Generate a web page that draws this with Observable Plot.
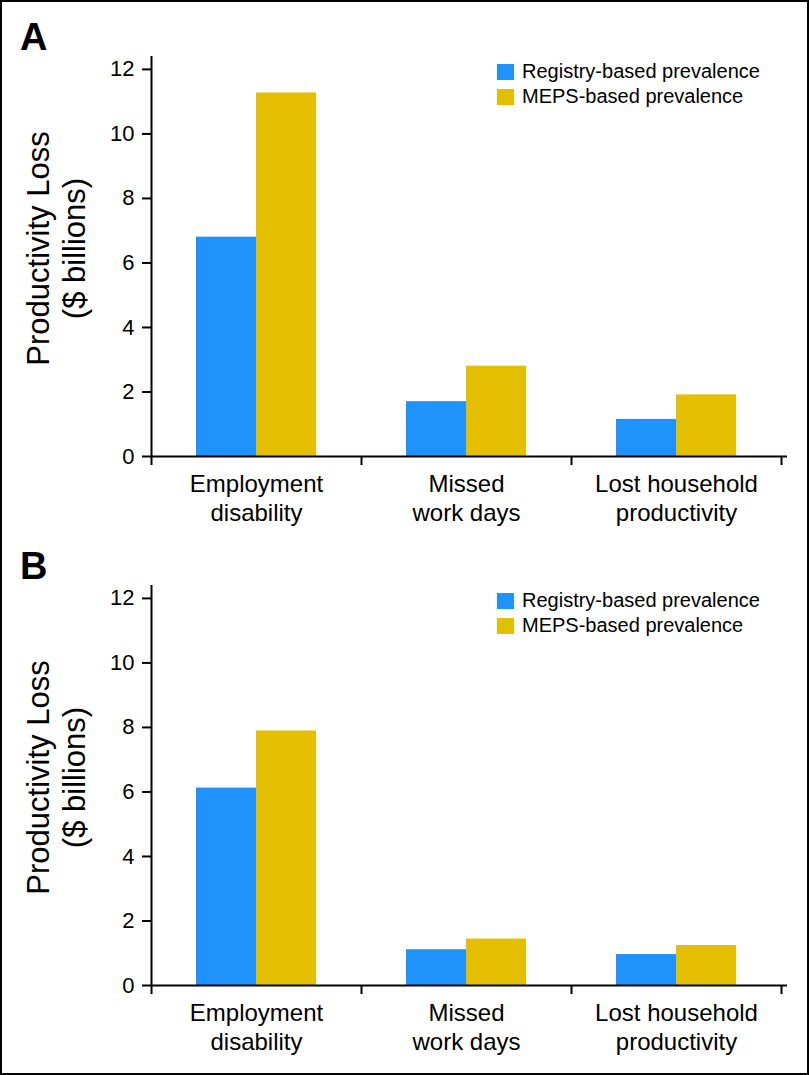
<!DOCTYPE html>
<html>
<head>
<meta charset="utf-8">
<script src="https://cdn.jsdelivr.net/npm/d3@7"></script>
<script src="https://cdn.jsdelivr.net/npm/@observablehq/plot@0.6"></script>
<style>
  html, body { margin: 0; padding: 0; background: #fff; }
  body { font-family: "Liberation Sans", Arial, Helvetica, sans-serif; }
  #fig { position: relative; width: 809px; height: 1075px; overflow: hidden; background: #fff; }
  #border { position: absolute; left: 0; top: 0; width: 809px; height: 1075px; box-sizing: border-box; border: 2px solid #000; pointer-events: none; }
  .panel { position: absolute; left: 0; width: 809px; }
  .panel svg { display: block; }
  .letter { position: absolute; left: 20px; font-weight: bold; font-size: 38px; line-height: 38px; color: #000; }
  .legend { position: absolute; left: 497px; font-size: 20px; color: #000; }
  .legend .row { display: flex; align-items: center; height: 25px; }
  .legend .sw { width: 17px; height: 16px; margin-right: 8px; }
</style>
</head>
<body>
<div id="fig"><div id="border"></div></div>
<script>
// ---- data ----
const categories = ["Employment disability", "Missed work days", "Lost household productivity"];
const tickLabels = ["Employment\ndisability", "Missed\nwork days", "Lost household\nproductivity"];
const series = ["Registry-based prevalence", "MEPS-based prevalence"];
const panelLetters = ["A", "B"];
const registryA = [6.8, 1.7, 1.15];
const mepsA = [11.27, 2.8, 1.91];
const registryB = [6.12, 1.11, 0.96];
const mepsB = [7.89, 1.44, 1.24];
const yTicks = [0, 2, 4, 6, 8, 10, 12];
const yLabel = "Productivity Loss\n($ billions)";
const colors = ["#1f93fb", "#e3bf00"];

// ---- layout ----
const W = 809, H = 530, ML = 151, MR = 28, MT = 56, MB = 74;
const yTop = 12.4;
const bw = (W - ML - MR) / categories.length;
const font = "'Liberation Sans', Arial, Helvetica, sans-serif";

function panel(reg, meps) {
  const rows = categories.flatMap((c, i) => [
    {category: c, series: series[0], value: reg[i]},
    {category: c, series: series[1], value: meps[i]}
  ]);
  const outer = bw * 45 / 210, inner = bw * 105 / 210;
  return Plot.plot({
    width: W, height: H,
    marginLeft: ML, marginRight: MR, marginTop: MT, marginBottom: MB,
    style: {fontFamily: font, color: "#000", background: "transparent", overflow: "visible"},
    x: {domain: categories, padding: 0},
    y: {domain: [0, yTop]},
    color: {domain: series, range: colors},
    marks: [
      Plot.barY(rows.filter(d => d.series === series[0]), {x: "category", y: "value", fill: "series", insetLeft: outer, insetRight: inner}),
      Plot.barY(rows.filter(d => d.series === series[1]), {x: "category", y: "value", fill: "series", insetLeft: inner, insetRight: outer}),
      Plot.axisY({ticks: yTicks, tickSize: 9, tickPadding: 8, fontSize: 22, strokeWidth: 2, label: null}),
      Plot.ruleX([categories[0]], {x: d => d, dx: -bw / 2, y1: 0, y2: yTop, strokeWidth: 2}),
      Plot.ruleY([0], {strokeWidth: 2, insetRight: -6}),
      Plot.axisX({tickSize: 9, dx: -bw / 2, strokeWidth: 2, tickFormat: () => "", label: null}),
      Plot.axisX({ticks: [categories[categories.length - 1]], tickSize: 9, dx: bw / 2, strokeWidth: 2, tickFormat: () => "", label: null}),
      Plot.axisX({tickSize: 0, tickPadding: 15, fontSize: 24, lineHeight: 1.2, tickFormat: d => tickLabels[categories.indexOf(d)], label: null}),
      Plot.text([yLabel], {text: d => d, frameAnchor: "left", textAnchor: "middle", lineAnchor: "middle", rotate: -90, dx: -96, dy: -8, fontSize: 31, lineHeight: 1.15})
    ]
  });
}

const fig = document.getElementById("fig");
const datasets = [[registryA, mepsA], [registryB, mepsB]];
datasets.forEach(([reg, meps], k) => {
  const top = k * 529;
  const div = document.createElement("div");
  div.className = "panel";
  div.style.top = top + "px";
  div.appendChild(panel(reg, meps));
  fig.insertBefore(div, document.getElementById("border"));

  const letter = document.createElement("div");
  letter.className = "letter";
  letter.style.top = (top + 18) + "px";
  letter.textContent = panelLetters[k];
  fig.insertBefore(letter, document.getElementById("border"));

  const leg = document.createElement("div");
  leg.className = "legend";
  leg.style.top = (top + 59) + "px";
  series.forEach((s, i) => {
    const row = document.createElement("div");
    row.className = "row";
    const sw = document.createElement("div");
    sw.className = "sw";
    sw.style.background = colors[i];
    const t = document.createElement("span");
    t.textContent = s;
    row.appendChild(sw); row.appendChild(t);
    leg.appendChild(row);
  });
  fig.insertBefore(leg, document.getElementById("border"));
});
</script>
</body>
</html>
